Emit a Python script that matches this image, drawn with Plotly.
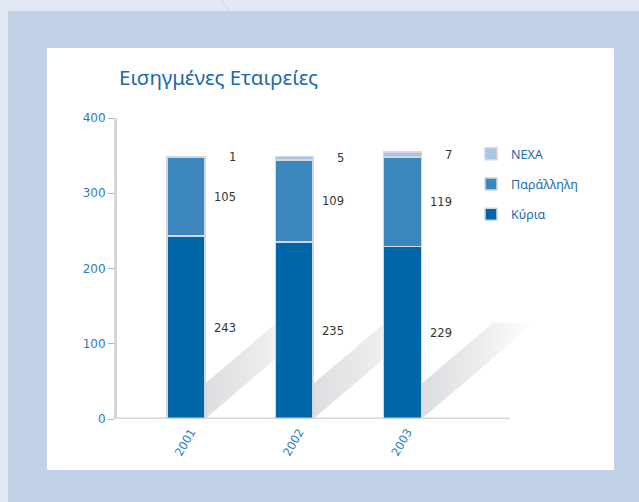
import plotly.graph_objects as go

# ---------------- data ----------------
years = ["2001", "2002", "2003"]
kyria = [243, 235, 229]
parallili = [105, 109, 119]
nexa = [1, 5, 7]
series_names = ["Κύρια", "Παράλληλη", "NEXA"]
title_text = "Εισηγμένες Εταιρείες"
y_ticks = [0, 100, 200, 300, 400]

# ---------------- style ----------------
W, H = 639, 502
PL, PR, PT, PB = 117, 545, 118, 419          # plot area in px
XMIN = -0.637
XMAX = XMIN + (PR - PL) / 108.25
YMIN, YMAX = 0, 400
BAR_W = 0.35
colors = ["#0066a8", "#3b86bd", "#a9c5e4"]
blue_txt = "#2a7dbf"
title_col = "#1a6aac"
axis_gray = "#d4d5d9"
font_main = "DejaVu Sans"
font_title = "Noto Sans"


def px_x(p):
    return (p - PL) / (PR - PL)


def px_y(p):
    return (PB - p) / (PB - PT)


xs = list(range(len(years)))
series = [kyria, parallili, nexa]

fig = go.Figure()

# shadows (on base axes, drawn under the bars that live on overlaid axes)
SH_T = 47          # vertical thickness (data units)
SH_TOP = 128       # clipped top (data units)
SH_SLOPE = 122.3   # data units per category step
for i in xs:
    xr = i + BAR_W / 2
    k = xr + (SH_TOP - SH_T) / SH_SLOPE
    e = xr + SH_TOP / SH_SLOPE
    fig.add_trace(go.Scatter(
        x=[xr, xr, k, e, xr], y=[0, SH_T, SH_TOP, SH_TOP, 0],
        mode="lines", line=dict(width=0), fill="toself",
        fillgradient=dict(type="horizontal",
                          colorscale=[[0, "#dcdde0"], [0.55, "#ededef"], [1, "#ffffff"]]),
        showlegend=False, hoverinfo="skip", xaxis="x", yaxis="y"))

ranks = {"NEXA": 1, "Παράλληλη": 2, "Κύρια": 3}
for name, vals, col in zip(series_names, series, colors):
    fig.add_trace(go.Bar(
        x=xs, y=vals, name=name, width=BAR_W,
        marker=dict(color=col, line=dict(color="#d3d8de", width=1.5)),
        legendgroup=name, legendrank=ranks[name], xaxis="x2", yaxis="y2"))

# value labels
annotations = []
for i in xs:
    base = 0
    for vals in series:
        v = vals[i]
        annotations.append(dict(
            x=i + 0.48, y=base + v / 2, xref="x", yref="y",
            text=str(v), showarrow=False, xanchor="right", yanchor="middle",
            font=dict(family=font_main, size=11.5, color="#333333")))
        base += v

annotations.append(dict(
    x=0, y=px_y(77), xref="paper", yref="paper", text=title_text,
    showarrow=False, xanchor="left", yanchor="middle",
    font=dict(family=font_title, size=20.5, color=title_col)))

shapes = [
    dict(type="rect", xref="paper", yref="paper", layer="below",
         x0=px_x(8), x1=px_x(660), y0=px_y(11), y1=px_y(520),
         fillcolor="#c1d1e7", line=dict(width=0)),
    dict(type="rect", xref="paper", yref="paper", layer="below",
         x0=px_x(47), x1=px_x(614), y0=px_y(48), y1=px_y(470),
         fillcolor="#ffffff", line=dict(width=0)),
    dict(type="line", xref="paper", yref="paper", layer="below",
         x0=px_x(222), x1=px_x(229), y0=px_y(0), y1=px_y(11),
         line=dict(color="#cbd6e8", width=1)),
    dict(type="line", xref="x", yref="y", layer="above",
         x0=XMIN, x1=XMIN + (510 - PL) / 108.25, y0=0, y1=0,
         line=dict(color=axis_gray, width=3)),
]

fig.update_layout(
    width=W, height=H,
    margin=dict(l=PL, r=W - PR, t=PT, b=H - PB, autoexpand=False),
    paper_bgcolor="#e2e9f4", plot_bgcolor="rgba(0,0,0,0)",
    barmode="stack",
    showlegend=True,
    legend=dict(x=px_x(471), y=px_y(139), xanchor="left", yanchor="top",
                traceorder="grouped", tracegroupgap=11,
                bgcolor="rgba(0,0,0,0)",
                font=dict(family=font_title, size=12.5, color=title_col)),
    xaxis=dict(range=[XMIN, XMAX], tickvals=xs, ticktext=years, tickangle=-60,
               showgrid=False, zeroline=False, showline=False, ticks="",
               ticklabelshift=5, ticklabelstandoff=3,
               tickfont=dict(family=font_main, size=11.5, color=blue_txt)),
    yaxis=dict(range=[YMIN, YMAX], tickvals=y_ticks, showgrid=False, zeroline=False,
               showline=True, linecolor=axis_gray, linewidth=3,
               ticks="outside", ticklen=6, tickcolor="#b5b5b5", tickwidth=1,
               tickfont=dict(family=font_main, size=12, color=blue_txt)),
    xaxis2=dict(overlaying="x", matches="x", visible=False),
    yaxis2=dict(overlaying="y", matches="y", visible=False),
    annotations=annotations,
    shapes=shapes,
)

fig.write_html(
    "out.html",
    config={"displayModeBar": False},
    post_script="document.body.style.margin='0';document.body.style.background='#e2e9f4';",
)
